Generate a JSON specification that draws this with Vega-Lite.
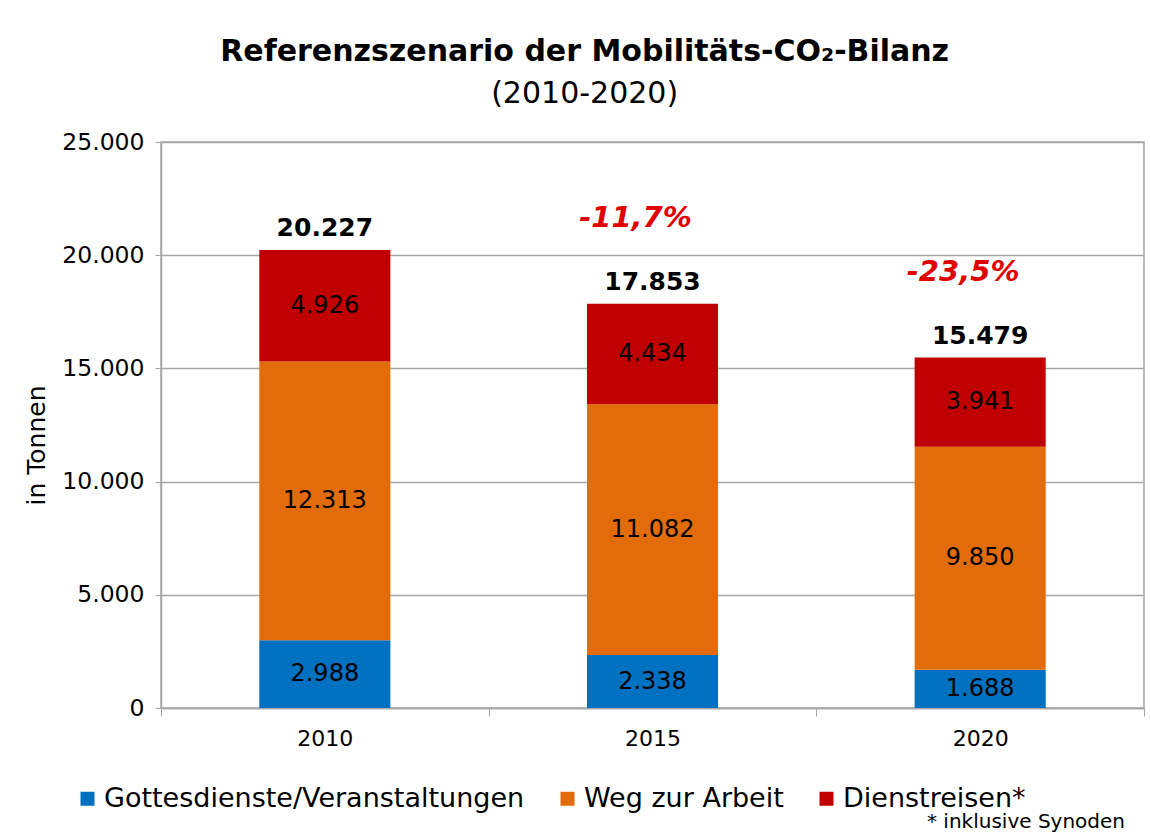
{
  "$schema": "https://vega.github.io/schema/vega-lite/v6.json",
  "width": 983,
  "height": 566,
  "padding": {"left": 24, "top": 37, "right": 7, "bottom": 0},
  "title": {
    "text": "Referenzszenario der Mobilitäts-CO₂-Bilanz",
    "subtitle": "(2010-2020)",
    "anchor": "middle",
    "frame": "bounds",
    "font": "DejaVu Sans",
    "fontSize": 30,
    "fontWeight": "bold",
    "color": "#000000",
    "subtitleFont": "DejaVu Sans",
    "subtitleFontSize": 30,
    "subtitleColor": "#000000",
    "subtitlePadding": 12,
    "offset": 21
  },
  "config": {
    "locale": {"number": {"decimal": ",", "thousands": ".", "grouping": [3], "currency": ["", " €"]}},
    "font": "DejaVu Sans",
    "view": {"stroke": "#a6a6a6", "strokeWidth": 1.5},
    "axis": {"labelFont": "DejaVu Sans", "titleFont": "DejaVu Sans", "labelColor": "#000000", "titleColor": "#000000"}
  },
  "datasets": {
    "segs": [
      {"jahr": "2010", "kategorie": "Gottesdienste/Veranstaltungen", "wert": 2988, "k": 1},
      {"jahr": "2010", "kategorie": "Weg zur Arbeit", "wert": 12313, "k": 2},
      {"jahr": "2010", "kategorie": "Dienstreisen*", "wert": 4926, "k": 3},
      {"jahr": "2015", "kategorie": "Gottesdienste/Veranstaltungen", "wert": 2338, "k": 1},
      {"jahr": "2015", "kategorie": "Weg zur Arbeit", "wert": 11082, "k": 2},
      {"jahr": "2015", "kategorie": "Dienstreisen*", "wert": 4434, "k": 3},
      {"jahr": "2020", "kategorie": "Gottesdienste/Veranstaltungen", "wert": 1688, "k": 1},
      {"jahr": "2020", "kategorie": "Weg zur Arbeit", "wert": 9850, "k": 2},
      {"jahr": "2020", "kategorie": "Dienstreisen*", "wert": 3941, "k": 3}
    ],
    "totals": [
      {"jahr": "2010", "summe": 20227, "aenderung": ""},
      {"jahr": "2015", "summe": 17853, "aenderung": "-11,7%"},
      {"jahr": "2020", "summe": 15479, "aenderung": "-23,5%"}
    ]
  },
  "layer": [
    {
      "data": {"name": "segs"},
      "mark": {"type": "bar", "width": {"band": 0.4}},
      "encoding": {
        "x": {
          "field": "jahr", "type": "nominal", "title": null,
          "scale": {"paddingInner": 0, "paddingOuter": 0},
          "axis": {"labelAngle": 0, "labelFontSize": 22, "tickBand": "extent", "tickSize": 8, "tickColor": "#a6a6a6", "domainColor": "#a6a6a6", "domainWidth": 1.5, "labelPadding": 12}
        },
        "y": {
          "field": "wert", "type": "quantitative", "aggregate": "sum", "stack": "zero",
          "title": "in Tonnen",
          "scale": {"domain": [0, 25000], "nice": false, "zero": true},
          "axis": {"values": [0, 5000, 10000, 15000, 20000, 25000], "format": ",.0f", "labelFontSize": 23.5, "titleFontSize": 25, "titleFontWeight": "normal", "titleY": 303, "tickSize": 6, "tickColor": "#a6a6a6", "domainColor": "#a6a6a6", "domainWidth": 1.5, "gridColor": "#a6a6a6", "gridWidth": 1.5, "labelPadding": 11, "titlePadding": 12}
        },
        "color": {
          "field": "kategorie", "type": "nominal",
          "scale": {"domain": ["Gottesdienste/Veranstaltungen", "Weg zur Arbeit", "Dienstreisen*"], "range": ["#0070c0", "#e36c0a", "#c00000"]},
          "legend": {
            "orient": "none", "legendX": -87, "legendY": 643, "direction": "horizontal",
            "title": "* inklusive Synoden", "titleOrient": "bottom", "titleAnchor": "end", "titleAlign": "center", "titleLimit": 1000,
            "titleFontSize": 20, "titleFontWeight": "normal", "titleFont": "DejaVu Sans", "titleColor": "#000000", "titlePadding": 0,
            "labelFontSize": 27, "labelFont": "DejaVu Sans", "labelColor": "#000000", "labelLimit": 1000,
            "symbolType": "square", "symbolSize": 196, "symbolStrokeWidth": 0, "symbolOpacity": 1,
            "columnPadding": 29, "labelOffset": 3
          }
        },
        "order": {"field": "k", "type": "quantitative"}
      }
    },
    {
      "data": {"name": "segs"},
      "mark": {"type": "text", "fontSize": 24, "color": "#000000", "baseline": "middle"},
      "encoding": {
        "x": {"field": "jahr", "type": "nominal"},
        "y": {"field": "wert", "type": "quantitative", "aggregate": "sum", "stack": "zero", "bandPosition": 0.5, "scale": {"domain": [0, 25000], "nice": false}},
        "detail": {"field": "kategorie"},
        "order": {"field": "k", "type": "quantitative"},
        "text": {"field": "wert", "type": "quantitative", "format": ",.0f"}
      }
    },
    {
      "data": {"name": "totals"},
      "mark": {"type": "text", "fontSize": 25, "fontWeight": "bold", "color": "#000000", "baseline": "alphabetic", "dy": -14},
      "encoding": {
        "x": {"field": "jahr", "type": "nominal"},
        "y": {"field": "summe", "type": "quantitative", "scale": {"domain": [0, 25000], "nice": false}},
        "text": {"field": "summe", "type": "quantitative", "format": ",.0f"}
      }
    },
    {
      "data": {"name": "totals"},
      "mark": {"type": "text", "fontSize": 29, "fontWeight": "bold", "fontStyle": "italic", "color": "#e00000", "baseline": "alphabetic", "dy": -77, "dx": -17},
      "encoding": {
        "x": {"field": "jahr", "type": "nominal"},
        "y": {"field": "summe", "type": "quantitative", "scale": {"domain": [0, 25000], "nice": false}},
        "text": {"field": "aenderung"}
      }
    }
  ]
}
